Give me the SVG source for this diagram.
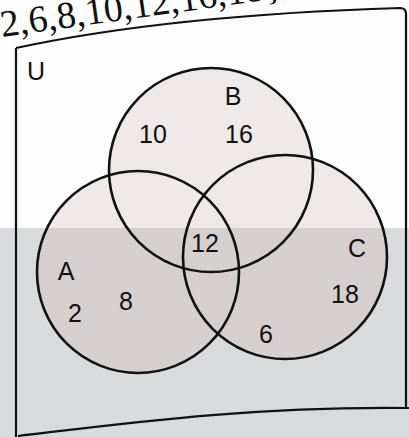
<svg xmlns="http://www.w3.org/2000/svg" width="409" height="437" viewBox="0 0 409 437">
<style>
.lbl{font-family:"Liberation Sans",Arial,sans-serif;font-size:25px;fill:#111;text-anchor:middle}
.ring{fill:none;stroke:#111;stroke-width:2.6}
.frame{fill:none;stroke:#111;stroke-width:2.2}
</style>
<defs>
<clipPath id="upper"><rect x="0" y="0" width="409" height="228"/></clipPath>
<clipPath id="lower"><rect x="0" y="228" width="409" height="209"/></clipPath>
<g id="discs">
<circle cx="138" cy="272" r="101"/>
<circle cx="285" cy="257" r="102"/>
<circle cx="211" cy="170" r="102"/>
</g>
</defs>
<rect width="409" height="437" fill="#fdfdfd"/>
<rect x="0" y="228" width="409" height="209" fill="#d9dadc"/>
<g id="fills">
<use href="#discs" fill="#efe8e8" clip-path="url(#upper)"/>
<use href="#discs" fill="#d5cfd0" clip-path="url(#lower)"/>
</g>
<text x="2" y="37" transform="rotate(-8 2 37)" font-family="'Liberation Serif','Times New Roman',serif" font-size="38" fill="#111">2,6,8,10,12,16,18}</text>
<g id="universe">
<path class="frame" d="M16,48 Q170,15 400,8 Q406,8 406,14 L406,408"/>
<path class="frame" d="M16,48 L16,437"/>
<path class="frame" d="M18,436 C120,424 250,406 409,408"/>
</g>
<g id="setA"><circle class="ring" cx="138" cy="272" r="101"/><text class="lbl" x="66" y="280">A</text></g>
<g id="setB"><circle class="ring" cx="211" cy="170" r="102"/><text class="lbl" x="233" y="105">B</text></g>
<g id="setC"><circle class="ring" cx="285" cy="257" r="102"/><text class="lbl" x="357" y="257">C</text></g>
<g id="labels">
<text class="lbl" x="36" y="80">U</text>
<text class="lbl" x="153" y="143">10</text>
<text class="lbl" x="239" y="143">16</text>
<text class="lbl" x="205" y="252">12</text>
<text class="lbl" x="345" y="303">18</text>
<text class="lbl" x="126" y="310">8</text>
<text class="lbl" x="75" y="322">2</text>
<text class="lbl" x="266" y="343">6</text>
</g>
</svg>
